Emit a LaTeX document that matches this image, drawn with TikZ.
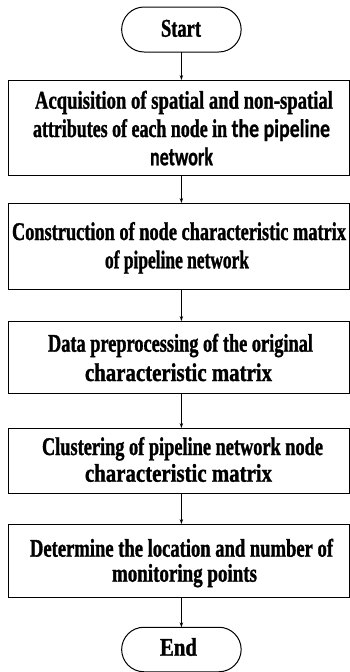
\documentclass[tikz,border=0pt]{standalone}
\usepackage{fontspec}
\usepackage{graphicx}
\usetikzlibrary{arrows.meta,shapes.misc}
\newfontfamily\tnrfont[FakeStretch=0.76,FakeBold=1.2]{Liberation Serif}
\newfontfamily\calfont[FakeStretch=0.84,FakeBold=0.8]{Carlito}
\newcommand\fitline[2]{\resizebox{#1pt}{\height}{#2}}
\begin{document}
\begin{tikzpicture}[x=1pt,y=-1pt,
  every node/.style={inner sep=0pt,outer sep=0pt},
  lbl/.style={anchor=base,font=\tnrfont\bfseries\fontsize{25.5}{25}\selectfont},
  stepbox/.style={draw,line width=1pt,rectangle,minimum width=341.5pt},
  term/.style={draw,line width=1pt,rounded rectangle,minimum width=119.5pt},
  conn/.style={line width=0.9pt,-{Stealth[length=5pt,width=3.5pt]}}]
\useasboundingbox (0,0) rectangle (350,672);
% shapes
\node[term,minimum height=45pt] (start) at (181.4,29.5) {};
\node[stepbox,minimum height=95pt] (b1) at (178.75,127.5) {};
\node[stepbox,minimum height=86pt] (b2) at (178.75,246) {};
\node[stepbox,minimum height=72pt] (b3) at (178.75,357) {};
\node[stepbox,minimum height=65pt] (b4) at (178.75,460.5) {};
\node[stepbox,minimum height=73pt] (b5) at (178.75,560.5) {};
\node[term,minimum height=44.5pt] (end) at (181.4,649.5) {};
% texts
\node[lbl] (ts) at (181,36.7) {\fitline{40}{Start}};
\node[lbl] (t1a) at (184,108.7) {\fitline{298}{Acquisition of spatial and non-spatial}};
\node[lbl] (t1b) at (181.5,137) {\fitline{297}{attributes of each node in {\calfont\bfseries the pipeline}}};
\node[lbl] (t1c) at (181.5,165.3) {\fitline{63}{\calfont\bfseries network}};
\node[lbl] (t2a) at (179,240) {\fitline{334}{Construction of node characteristic matrix}};
\node[lbl] (t2b) at (177,268.3) {\fitline{144}{of pipeline network}};
\node[lbl] (t3a) at (180.5,351.7) {\fitline{265}{Data preprocessing of the original}};
\node[lbl] (t3b) at (178.5,381) {\fitline{187}{characteristic matrix}};
\node[lbl] (t4a) at (182.5,455) {\fitline{281}{Clustering of pipeline network node}};
\node[lbl] (t4b) at (178.5,481.7) {\fitline{187}{characteristic matrix}};
\node[lbl] (t5a) at (181.5,556.7) {\fitline{303}{Determine the location and number of}};
\node[lbl] (t5b) at (184.5,581.7) {\fitline{145}{monitoring points}};
\node[lbl] (te) at (178.5,655.7) {\fitline{37}{End}};
% connectors
\draw[conn] (start.south) -- (b1.north -| start.south);
\draw[conn] (b1.south -| start.south) -- (b2.north -| start.south);
\draw[conn] (b2.south -| start.south) -- (b3.north -| start.south);
\draw[conn] (b3.south -| start.south) -- (b4.north -| start.south);
\draw[conn] (b4.south -| start.south) -- (b5.north -| start.south);
\draw[conn] (b5.south -| start.south) -- (end.north);
\end{tikzpicture}
\end{document}
